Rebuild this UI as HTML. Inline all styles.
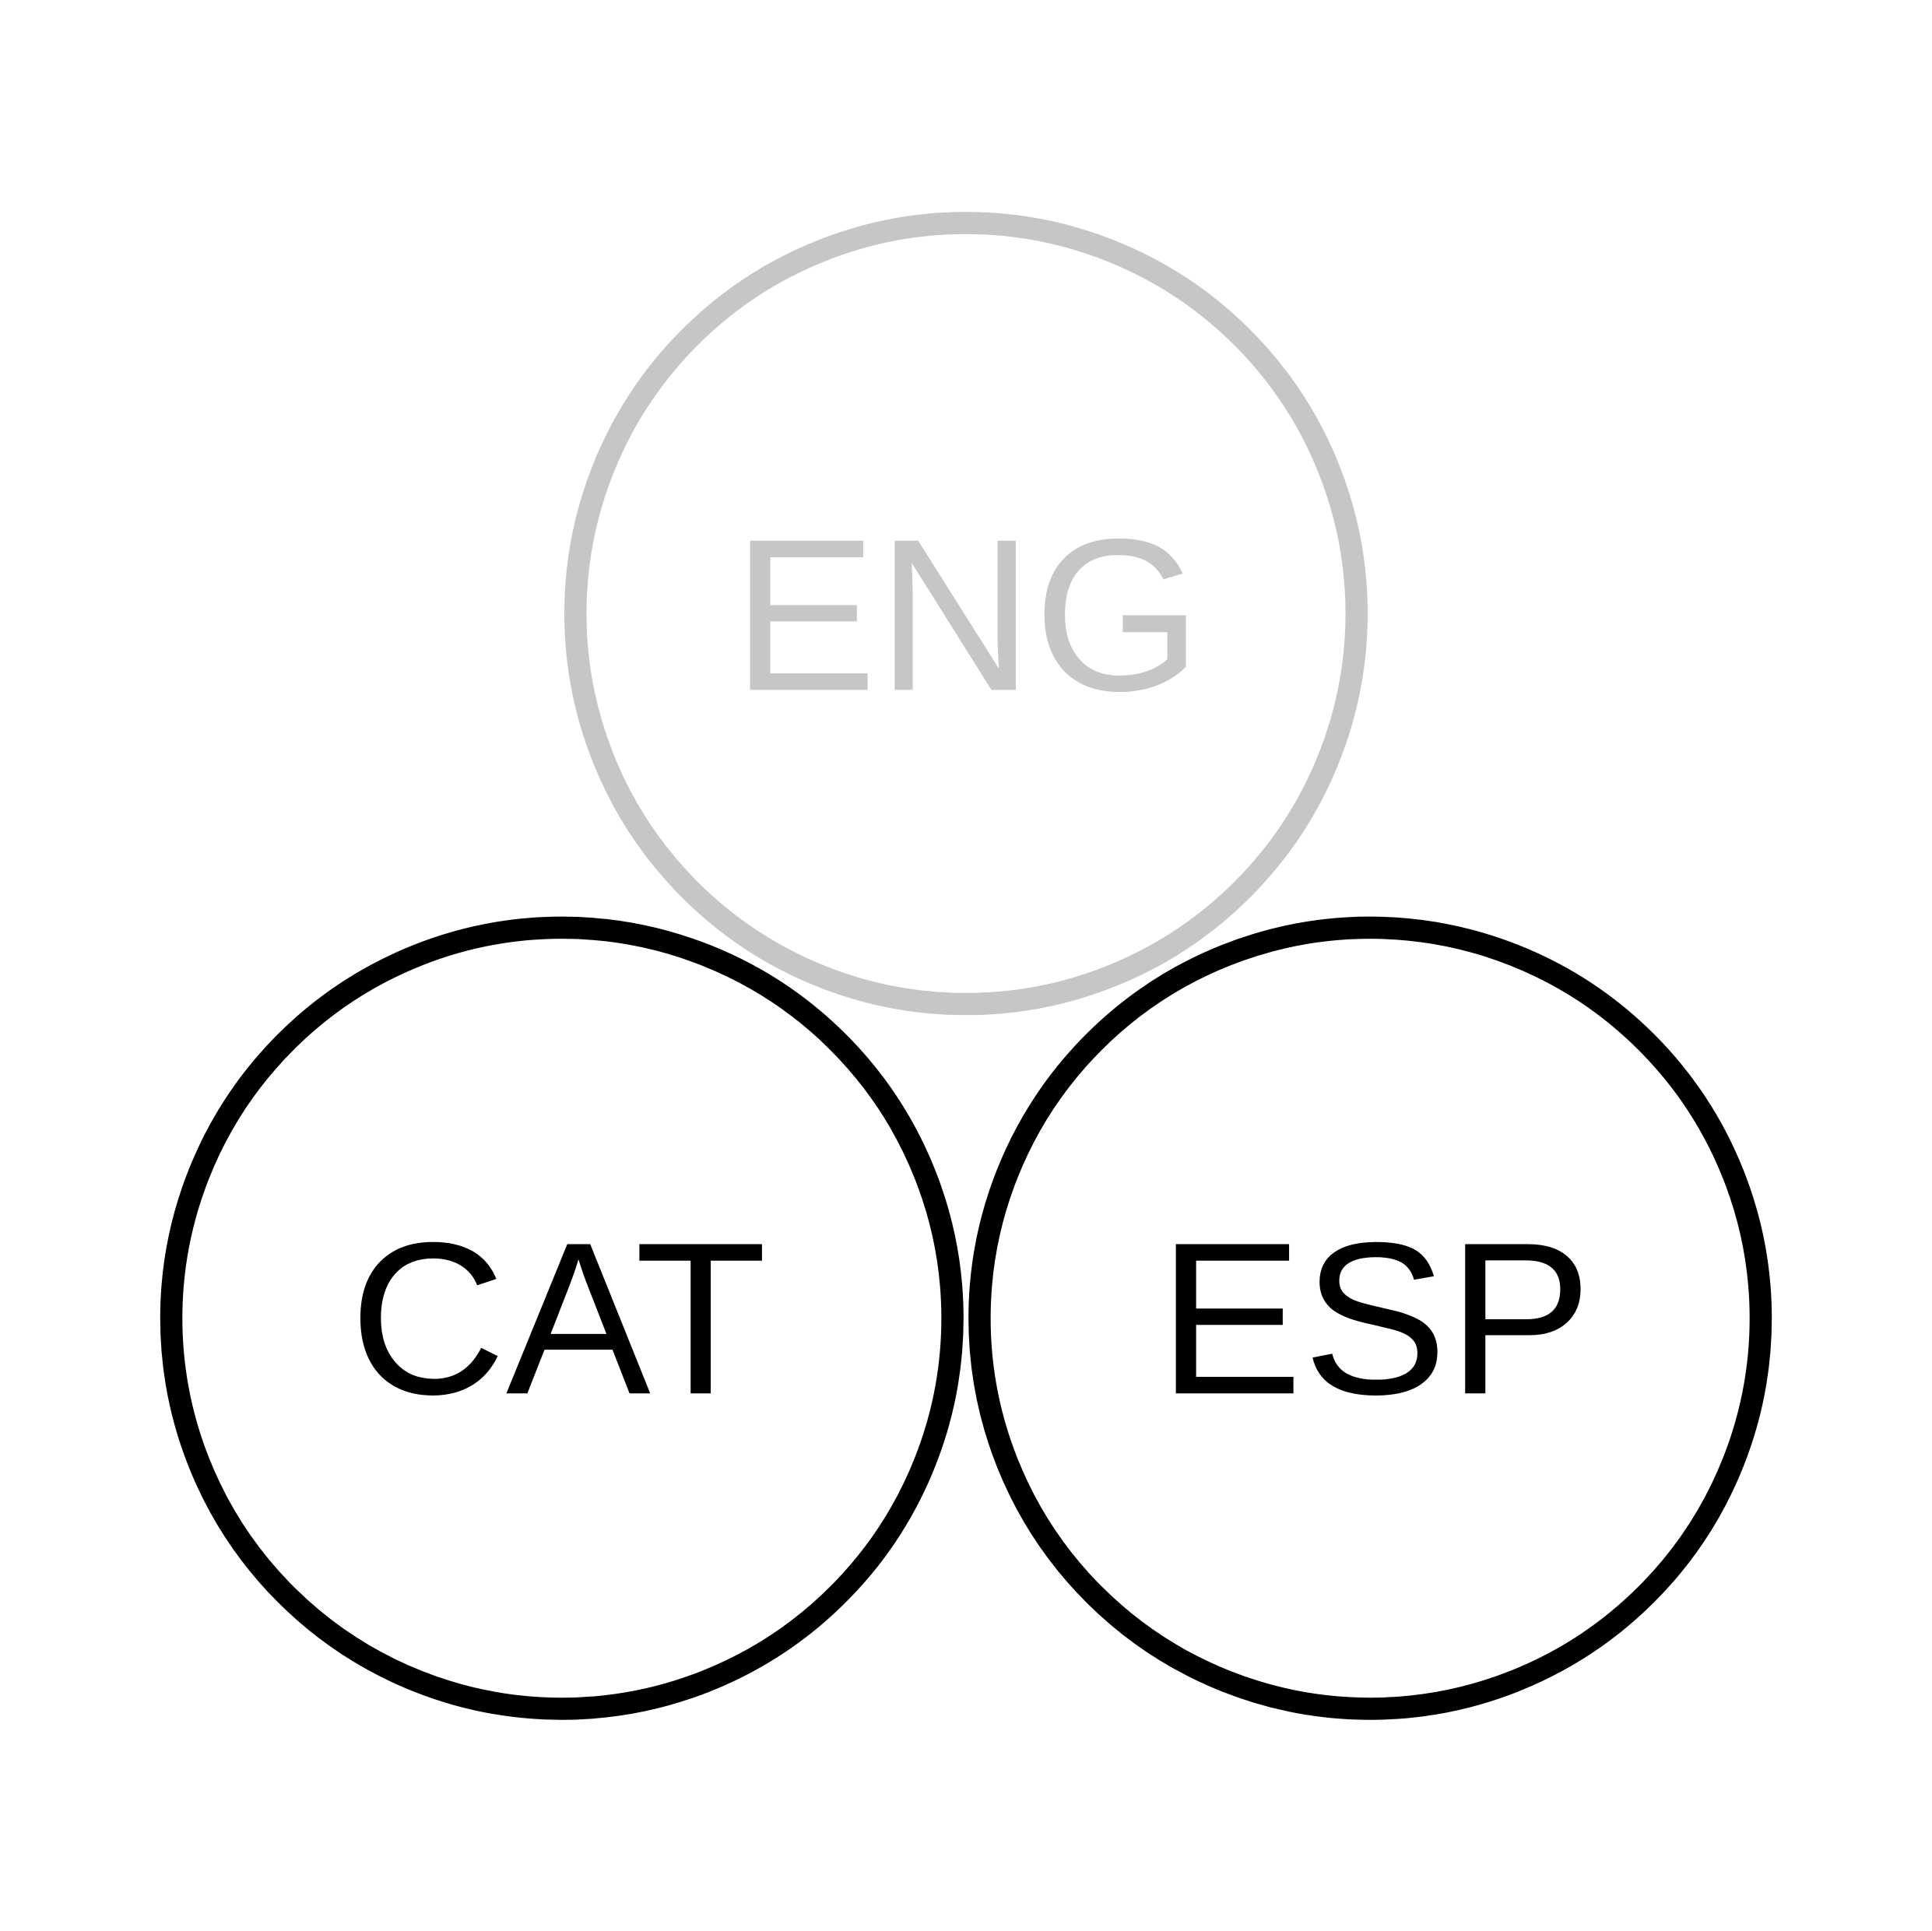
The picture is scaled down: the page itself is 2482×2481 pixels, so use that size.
<!DOCTYPE html>
<html><head><style>html,body{margin:0;padding:0;background:#fff}svg{display:block}</style></head>
<body>
<svg width="2482" height="2481" viewBox="0 0 1568 1567.4" xmlns="http://www.w3.org/2000/svg">
<rect width="1568" height="1568" fill="#fff"/>
<circle cx="784" cy="498" r="317" fill="none" stroke="#c6c6c6" stroke-width="18"/>
<circle cx="456" cy="1070" r="317" fill="none" stroke="#000" stroke-width="18"/>
<circle cx="1112" cy="1070" r="317" fill="none" stroke="#000" stroke-width="18"/>
<text x="785" y="560" text-anchor="middle" font-family="Liberation Sans, Arial, sans-serif" font-size="176" fill="#c6c6c6">ENG</text>
<text x="453" y="1131" text-anchor="middle" font-family="Liberation Sans, Arial, sans-serif" font-size="176" fill="#000">CAT</text>
<text x="1116" y="1131" text-anchor="middle" font-family="Liberation Sans, Arial, sans-serif" font-size="176" fill="#000">ESP</text>
</svg>
</body></html>
